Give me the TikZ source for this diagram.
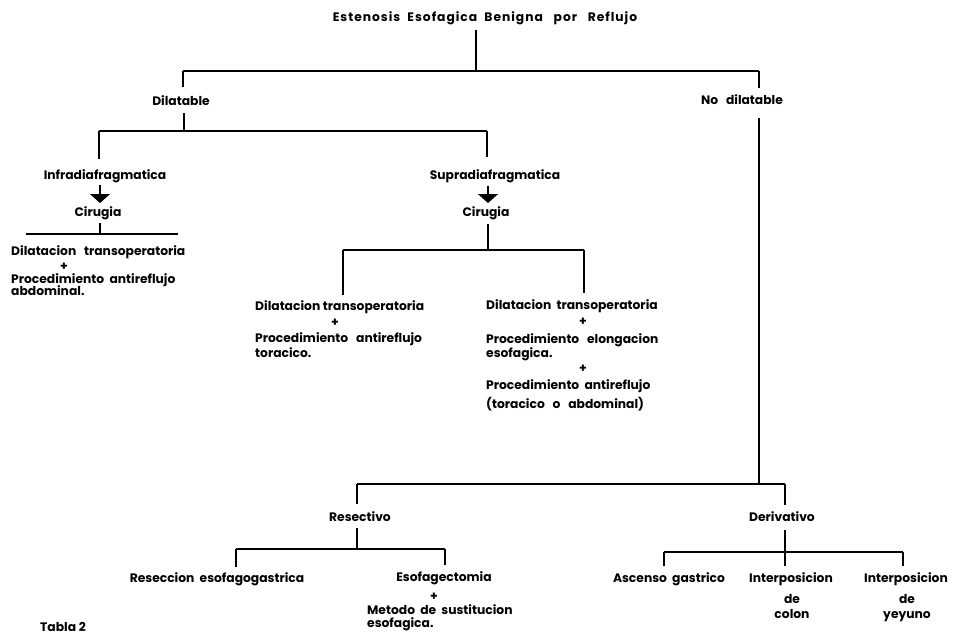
\documentclass[tikz,border=0pt]{standalone}
\usepackage{fontspec}
\setmainfont{Poppins}
\usetikzlibrary{arrows.meta}
\begin{document}
\begin{tikzpicture}[x=1pt,y=-1pt,
  lbl/.style={inner sep=0pt, text height=9pt, text depth=0pt, font=\fontsize{12.3}{14}\selectfont\bfseries},
  lw/.style={lbl, anchor=west},
  ln/.style={line width=1.1pt, line join=round},
  bigarrow/.style={ln, -{Triangle[width=20pt,length=9pt]}}]
\clip (0,0) rectangle (953,637);
\fill[white] (0,0) rectangle (953,637);
% title
\node[lbl] (title) at (485,17) {\addfontfeature{LetterSpace=8}Estenosis\ \ Esofagica\ \ Benigna\ \ \ por\ \ \ Reflujo};
\coordinate (j0) at (476,71);
\coordinate (j0L) at (183,71);
\coordinate (j0R) at (759,71);
\draw[ln] (476,30) -- (j0);
\draw[ln] (j0L) -- (j0R);
% level 1
\node[lbl] (dil) at (181,101) {Dilatable};
\node[lbl] (nodil) at (742,100) {No\ \ \ dilatable};
\draw[ln] (j0L) -- (183,87);
\draw[ln] (j0R) -- (759,88);
\coordinate (j1) at (184,131);
\coordinate (j1L) at (99,131);
\coordinate (j1R) at (487,131);
\draw[ln] (184,113) -- (j1);
\draw[ln] (j1L) -- (j1R);
\draw[ln] (j1L) -- (99,159);
\draw[ln] (j1R) -- (487,157);
% Infra / Supra
\node[lbl] (infra) at (105,175) {Infradiafragmatica};
\node[lbl] (supra) at (495,175) {Supradiafragmatica};
\draw[bigarrow] (100,185) -- (100,203);
\draw[bigarrow] (488,186) -- (488,203);
\node[lbl] (cirL) at (98,212) {Cirugia};
\node[lbl] (cirR) at (486,212) {Cirugia};
% left cirugia branch
\draw[ln] (100,223) -- (100,234);
\draw[ln] (26,234) -- (178,234);
\node[lw] (a1) at (11,251) {Dilatacion\ \ \ transoperatoria};
\node[lbl] (a2) at (64,266) {+};
\node[lw] (a3) at (11,279) {Procedimiento\ \ antireflujo};
\node[lw] (a4) at (11,291) {abdominal.};
% right cirugia branch
\coordinate (j2) at (488,250);
\coordinate (j2L) at (343,250);
\coordinate (j2R) at (584,250);
\draw[ln] (488,224) -- (j2);
\draw[ln] (j2L) -- (j2R);
\draw[ln] (j2L) -- (343,295);
\draw[ln] (j2R) -- (584,293);
\node[lw] (b1) at (255,306) {Dilatacion transoperatoria};
\node[lbl] (b2) at (335,322) {+};
\node[lw] (b3) at (255,338) {Procedimiento\ \ \ antireflujo};
\node[lw] (b4) at (255,353) {toracico.};
\node[lw] (c1) at (486,305) {Dilatacion\ \ transoperatoria};
\node[lbl] (c2) at (583,321) {+};
\node[lw] (c3) at (486,339) {Procedimiento\ \ \ elongacion};
\node[lw] (c4) at (486,353) {esofagica.};
\node[lbl] (c5) at (583,368) {+};
\node[lw] (c6) at (486,385) {Procedimiento\ \ antireflujo};
\node[lw] (c7) at (486,404) {(toracico\ \ \ o\ \ \ abdominal)};
% no dilatable branch
\coordinate (j3) at (759,484);
\coordinate (j3L) at (357,484);
\coordinate (j3R) at (785,484);
\draw[ln] (759,118) -- (j3);
\draw[ln] (j3L) -- (j3R);
\draw[ln] (j3L) -- (357,504);
\draw[ln] (j3R) -- (785,505);
\node[lbl] (res) at (360,517) {Resectivo};
\node[lbl] (der) at (782,517) {Derivativo};
% resectivo children
\coordinate (j4) at (357,549);
\coordinate (j4L) at (236,549);
\coordinate (j4R) at (445,549);
\draw[ln] (357,528) -- (j4);
\draw[ln] (j4L) -- (j4R);
\draw[ln] (j4L) -- (236,567);
\draw[ln] (j4R) -- (445,565);
\node[lbl] (rg) at (217,578) {Reseccion\ \ esofagogastrica};
\node[lbl] (esof) at (444,577) {Esofagectomia};
\node[lbl] (esp) at (434,596) {+};
\node[lw] (m1) at (367,610) {Metodo\ \ de\ \ sustitucion};
\node[lw] (m2) at (367,623) {esofagica.};
% derivativo children
\coordinate (j5) at (785,552);
\coordinate (j5L) at (664,552);
\coordinate (j5R) at (903,552);
\draw[ln] (785,530) -- (j5);
\draw[ln] (j5L) -- (j5R);
\draw[ln] (j5L) -- (664,566);
\draw[ln] (j5) -- (785,566);
\draw[ln] (j5R) -- (903,566);
\node[lbl] (asc) at (669,578) {Ascenso\ \ gastrico};
\node[lbl] (ic1) at (791,578) {Interposicion};
\node[lbl] (ic2) at (792,599) {de};
\node[lbl] (ic3) at (792,614) {colon};
\node[lbl] (iy1) at (906,578) {Interposicion};
\node[lbl] (iy2) at (907,599) {de};
\node[lbl] (iy3) at (907,614) {yeyuno};
% caption
\node[lbl, anchor=west] (tabla) at (40,627) {Tabla\ 2};
\end{tikzpicture}
\end{document}
